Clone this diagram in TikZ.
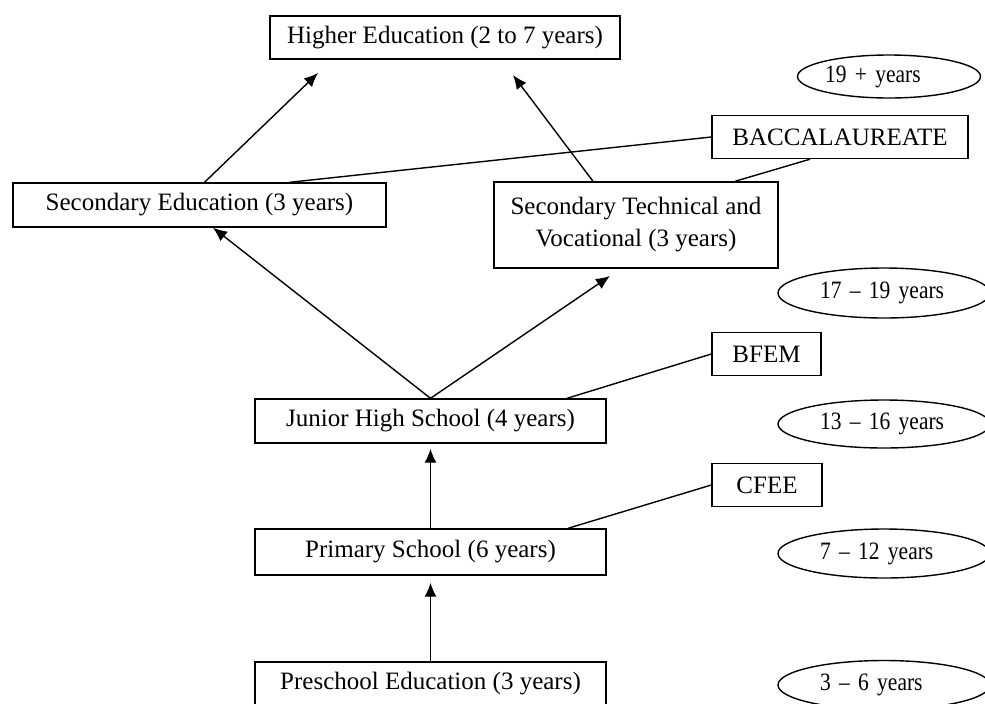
\documentclass[tikz,border=0pt]{standalone}
\usepackage{fontspec}
\setmainfont{Liberation Serif}
\newfontfamily\agefont[Ligatures=TeX,FakeStretch=0.86]{Liberation Serif}
\usetikzlibrary{shapes}
\usetikzlibrary{arrows.meta}
\usetikzlibrary{calc}
\tikzstyle{stage}=[rectangle,draw,line width=0.7pt,align=center,inner sep=0pt,font=\fontsize{12.5pt}{16pt}\selectfont]
\tikzstyle{agebubble}=[ellipse,draw,line width=0.7pt,inner sep=0pt,text width=64pt,align=left,font=\agefont\fontsize{12.5pt}{15pt}\selectfont]
\tikzstyle{link}=[-{Latex[length=7pt,width=6pt]},line width=0.7pt]
\tikzstyle{tie}=[-,line width=0.7pt]

\begin{document}
\begin{tikzpicture}[x=0.5pt,y=-0.5pt]
\useasboundingbox (0,0) rectangle (985,703);
\clip (0,0) rectangle (985,703);

%stages
    \foreach \pos/\name/\w/\h/\label in {{(445,37.5)/higher/350/43/Higher Education (2 to 7 years)}, {(199.5,205)/seced/373/44/Secondary Education (3 years)}, {(636,225)/sectech/284/86/Secondary Technical and\\Vocational (3 years)}, {(430.5,421)/junior/351/44/Junior High School (4 years)}, {(430.5,552)/primary/351/46/Primary School (6 years)}, {(430.5,684)/preschool/351/44/Preschool Education (3 years)}}
        \node[stage, minimum width=\w*0.5pt, minimum height=\h*0.5pt] (\name) at \pos {\label};

%exams
    \foreach \pos/\name/\w/\label in {{(840,137)/bacc/256/BACCALAUREATE}, {(766.5,354)/bfem/109/BFEM}, {(767,485)/cfee/110/CFEE}}
        \node[stage, minimum width=\w*0.5pt, minimum height=21.5pt] (\name) at \pos {\label};

%ages
    \foreach \pos/\name/\w/\h/\label in {{(889,76.5)/age19/183/43/19 + years}, {(884,293)/age17/212/50/17 -- 19 years}, {(884,424)/age13/212/48/13 -- 16 years}, {(884,553.5)/age7/212/49/7 -- 12 years}, {(884,685)/age3/212/49/3 -- 6 years}}
        \node[agebubble, minimum width=\w*0.5pt, minimum height=\h*0.5pt] (\name) at \pos {\label};

%arrows
    \coordinate (tipL) at (318,73);
    \coordinate (tipR) at (513,75);
    \coordinate (tipT) at (610,276);
    \draw[link] ($(seced.north)+(5,0)$) -- (tipL);
    \draw[link] ($(sectech.north)+(-43,0)$) -- (tipR);
    \draw[link] (junior.north) -- ($(seced.south)+(13.5,0)$);
    \draw[link] (junior.north) -- (tipT);
    \draw[link, shorten >=2.5pt] (primary.north) -- (junior.south);
    \draw[link, shorten >=3.5pt] (preschool.north) -- (primary.south);

%exam lines
    \draw[tie] ($(seced.north)+(90,0)$) -- (bacc.west);
    \draw[tie] ($(sectech.north)+(99,0)$) -- ($(bacc.south)+(-30,0)$);
    \draw[tie] ($(junior.north)+(136.5,0)$) -- (bfem.west);
    \draw[tie] ($(primary.north)+(137.5,0)$) -- (cfee.west);

\end{tikzpicture}
\end{document}
